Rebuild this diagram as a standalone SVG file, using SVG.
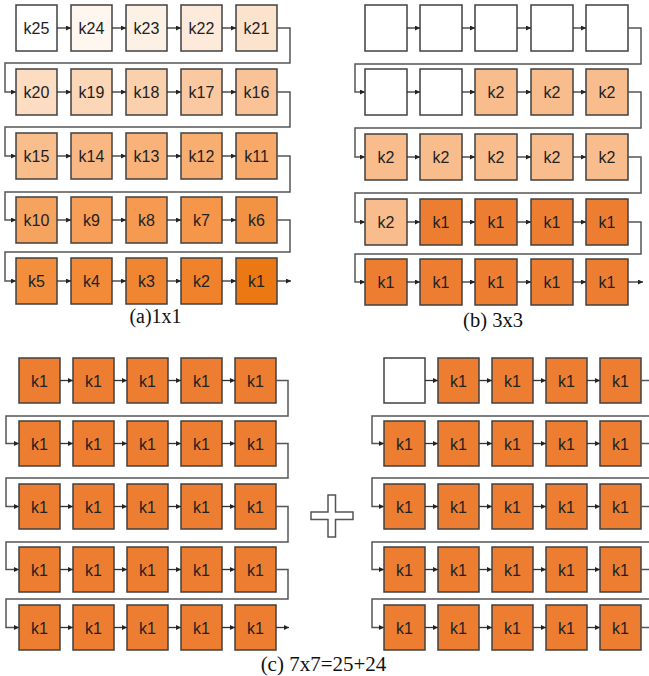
<svg xmlns="http://www.w3.org/2000/svg" width="649" height="676" viewBox="0 0 649 676">
<style>
.bx{stroke:#404040;stroke-width:1.5}
.t{font-size:16px;fill:#222;text-anchor:middle}
.cap{fill:#111;text-anchor:middle}
.c{fill:none;stroke:#333;stroke-width:1.3;marker-end:url(#ah)}
.w{fill:none;stroke:#555;stroke-width:1.5;marker-end:url(#ah)}
.s{fill:none;stroke:#555;stroke-width:1.5}
.k1{fill:#ED7D31}.k2{fill:#F9BD8D}.e{fill:#fff}
</style>
<defs>
<marker id="ah" markerUnits="userSpaceOnUse" markerWidth="5" markerHeight="5" refX="5" refY="2.5" orient="auto"><path d="M0,0L5,2.5L0,5z" fill="#222"/></marker>
</defs>
<rect width="649" height="676" fill="#fff"/>

<g font-family="Liberation Sans, Arial, sans-serif">
<!-- Panel A -->
<g id="panelA-nodes">
<g id="a-k25" transform="translate(16,5)"><rect class="bx" width="41" height="46" fill="#ffffff"/><text class="t" x="20.5" y="29">k25</text></g>
<g id="a-k24" transform="translate(71,5)"><rect class="bx" width="41" height="46" fill="#fef6ef"/><text class="t" x="20.5" y="29">k24</text></g>
<g id="a-k23" transform="translate(126,5)"><rect class="bx" width="41" height="46" fill="#fdf0e4"/><text class="t" x="20.5" y="29">k23</text></g>
<g id="a-k22" transform="translate(181,5)"><rect class="bx" width="41" height="46" fill="#fdeada"/><text class="t" x="20.5" y="29">k22</text></g>
<g id="a-k21" transform="translate(236,5)"><rect class="bx" width="41" height="46" fill="#fce3ce"/><text class="t" x="20.5" y="29">k21</text></g>
<g id="a-k20" transform="translate(16,69)"><rect class="bx" width="41" height="46" fill="#fcddc2"/><text class="t" x="20.5" y="29">k20</text></g>
<g id="a-k19" transform="translate(71,69)"><rect class="bx" width="41" height="46" fill="#fbd6b7"/><text class="t" x="20.5" y="29">k19</text></g>
<g id="a-k18" transform="translate(126,69)"><rect class="bx" width="41" height="46" fill="#fbd0ac"/><text class="t" x="20.5" y="29">k18</text></g>
<g id="a-k17" transform="translate(181,69)"><rect class="bx" width="41" height="46" fill="#fac9a1"/><text class="t" x="20.5" y="29">k17</text></g>
<g id="a-k16" transform="translate(236,69)"><rect class="bx" width="41" height="46" fill="#fac397"/><text class="t" x="20.5" y="29">k16</text></g>
<g id="a-k15" transform="translate(16,133)"><rect class="bx" width="41" height="46" fill="#fabe8d"/><text class="t" x="20.5" y="29">k15</text></g>
<g id="a-k14" transform="translate(71,133)"><rect class="bx" width="41" height="46" fill="#f9b883"/><text class="t" x="20.5" y="29">k14</text></g>
<g id="a-k13" transform="translate(126,133)"><rect class="bx" width="41" height="46" fill="#f9b37a"/><text class="t" x="20.5" y="29">k13</text></g>
<g id="a-k12" transform="translate(181,133)"><rect class="bx" width="41" height="46" fill="#f8ad71"/><text class="t" x="20.5" y="29">k12</text></g>
<g id="a-k11" transform="translate(236,133)"><rect class="bx" width="41" height="46" fill="#f8a868"/><text class="t" x="20.5" y="29">k11</text></g>
<g id="a-k10" transform="translate(16,197)"><rect class="bx" width="41" height="46" fill="#f7a360"/><text class="t" x="20.5" y="29">k10</text></g>
<g id="a-k9" transform="translate(71,197)"><rect class="bx" width="41" height="46" fill="#f79e58"/><text class="t" x="20.5" y="29">k9</text></g>
<g id="a-k8" transform="translate(126,197)"><rect class="bx" width="41" height="46" fill="#f69a51"/><text class="t" x="20.5" y="29">k8</text></g>
<g id="a-k7" transform="translate(181,197)"><rect class="bx" width="41" height="46" fill="#f5964a"/><text class="t" x="20.5" y="29">k7</text></g>
<g id="a-k6" transform="translate(236,197)"><rect class="bx" width="41" height="46" fill="#f49244"/><text class="t" x="20.5" y="29">k6</text></g>
<g id="a-k5" transform="translate(16,258)"><rect class="bx" width="41" height="46" fill="#f38e3d"/><text class="t" x="20.5" y="29">k5</text></g>
<g id="a-k4" transform="translate(71,258)"><rect class="bx" width="41" height="46" fill="#f28a37"/><text class="t" x="20.5" y="29">k4</text></g>
<g id="a-k3" transform="translate(126,258)"><rect class="bx" width="41" height="46" fill="#f18632"/><text class="t" x="20.5" y="29">k3</text></g>
<g id="a-k2" transform="translate(181,258)"><rect class="bx" width="41" height="46" fill="#f0822c"/><text class="t" x="20.5" y="29">k2</text></g>
<g id="a-k1" transform="translate(236,258)"><rect class="bx" width="41" height="46" fill="#ec7814"/><text class="t" x="20.5" y="29">k1</text></g>
</g>

<!-- Panel B -->
<g id="panelB-nodes">
<g id="b-r1c1" transform="translate(365,5)"><rect class="bx e" width="42" height="46"/></g>
<g id="b-r1c2" transform="translate(420,5)"><rect class="bx e" width="42" height="46"/></g>
<g id="b-r1c3" transform="translate(475,5)"><rect class="bx e" width="42" height="46"/></g>
<g id="b-r1c4" transform="translate(531,5)"><rect class="bx e" width="42" height="46"/></g>
<g id="b-r1c5" transform="translate(586,5)"><rect class="bx e" width="42" height="46"/></g>
<g id="b-r2c1" transform="translate(365,69)"><rect class="bx e" width="42" height="46"/></g>
<g id="b-r2c2" transform="translate(420,69)"><rect class="bx e" width="42" height="46"/></g>
<g id="b-r2c3" transform="translate(475,69)"><rect class="bx k2" width="42" height="46"/><text class="t" x="21" y="29">k2</text></g>
<g id="b-r2c4" transform="translate(531,69)"><rect class="bx k2" width="42" height="46"/><text class="t" x="21" y="29">k2</text></g>
<g id="b-r2c5" transform="translate(586,69)"><rect class="bx k2" width="42" height="46"/><text class="t" x="21" y="29">k2</text></g>
<g id="b-r3c1" transform="translate(365,134)"><rect class="bx k2" width="42" height="46"/><text class="t" x="21" y="29">k2</text></g>
<g id="b-r3c2" transform="translate(420,134)"><rect class="bx k2" width="42" height="46"/><text class="t" x="21" y="29">k2</text></g>
<g id="b-r3c3" transform="translate(475,134)"><rect class="bx k2" width="42" height="46"/><text class="t" x="21" y="29">k2</text></g>
<g id="b-r3c4" transform="translate(531,134)"><rect class="bx k2" width="42" height="46"/><text class="t" x="21" y="29">k2</text></g>
<g id="b-r3c5" transform="translate(586,134)"><rect class="bx k2" width="42" height="46"/><text class="t" x="21" y="29">k2</text></g>
<g id="b-r4c1" transform="translate(365,199)"><rect class="bx k2" width="42" height="46"/><text class="t" x="21" y="29">k2</text></g>
<g id="b-r4c2" transform="translate(420,199)"><rect class="bx k1" width="42" height="46"/><text class="t" x="21" y="29">k1</text></g>
<g id="b-r4c3" transform="translate(475,199)"><rect class="bx k1" width="42" height="46"/><text class="t" x="21" y="29">k1</text></g>
<g id="b-r4c4" transform="translate(531,199)"><rect class="bx k1" width="42" height="46"/><text class="t" x="21" y="29">k1</text></g>
<g id="b-r4c5" transform="translate(586,199)"><rect class="bx k1" width="42" height="46"/><text class="t" x="21" y="29">k1</text></g>
<g id="b-r5c1" transform="translate(365,259)"><rect class="bx k1" width="42" height="46"/><text class="t" x="21" y="29">k1</text></g>
<g id="b-r5c2" transform="translate(420,259)"><rect class="bx k1" width="42" height="46"/><text class="t" x="21" y="29">k1</text></g>
<g id="b-r5c3" transform="translate(475,259)"><rect class="bx k1" width="42" height="46"/><text class="t" x="21" y="29">k1</text></g>
<g id="b-r5c4" transform="translate(531,259)"><rect class="bx k1" width="42" height="46"/><text class="t" x="21" y="29">k1</text></g>
<g id="b-r5c5" transform="translate(586,259)"><rect class="bx k1" width="42" height="46"/><text class="t" x="21" y="29">k1</text></g>
</g>

<!-- Panel C left -->
<g id="panelC1-nodes">
<g id="c1-r1c1" transform="translate(19,358)"><rect class="bx k1" width="41" height="45"/><text class="t" x="20.5" y="28.5">k1</text></g>
<g id="c1-r1c2" transform="translate(73,358)"><rect class="bx k1" width="41" height="45"/><text class="t" x="20.5" y="28.5">k1</text></g>
<g id="c1-r1c3" transform="translate(127,358)"><rect class="bx k1" width="41" height="45"/><text class="t" x="20.5" y="28.5">k1</text></g>
<g id="c1-r1c4" transform="translate(181,358)"><rect class="bx k1" width="41" height="45"/><text class="t" x="20.5" y="28.5">k1</text></g>
<g id="c1-r1c5" transform="translate(235,358)"><rect class="bx k1" width="41" height="45"/><text class="t" x="20.5" y="28.5">k1</text></g>
<g id="c1-r2c1" transform="translate(19,421)"><rect class="bx k1" width="41" height="45"/><text class="t" x="20.5" y="28.5">k1</text></g>
<g id="c1-r2c2" transform="translate(73,421)"><rect class="bx k1" width="41" height="45"/><text class="t" x="20.5" y="28.5">k1</text></g>
<g id="c1-r2c3" transform="translate(127,421)"><rect class="bx k1" width="41" height="45"/><text class="t" x="20.5" y="28.5">k1</text></g>
<g id="c1-r2c4" transform="translate(181,421)"><rect class="bx k1" width="41" height="45"/><text class="t" x="20.5" y="28.5">k1</text></g>
<g id="c1-r2c5" transform="translate(235,421)"><rect class="bx k1" width="41" height="45"/><text class="t" x="20.5" y="28.5">k1</text></g>
<g id="c1-r3c1" transform="translate(19,484)"><rect class="bx k1" width="41" height="45"/><text class="t" x="20.5" y="28.5">k1</text></g>
<g id="c1-r3c2" transform="translate(73,484)"><rect class="bx k1" width="41" height="45"/><text class="t" x="20.5" y="28.5">k1</text></g>
<g id="c1-r3c3" transform="translate(127,484)"><rect class="bx k1" width="41" height="45"/><text class="t" x="20.5" y="28.5">k1</text></g>
<g id="c1-r3c4" transform="translate(181,484)"><rect class="bx k1" width="41" height="45"/><text class="t" x="20.5" y="28.5">k1</text></g>
<g id="c1-r3c5" transform="translate(235,484)"><rect class="bx k1" width="41" height="45"/><text class="t" x="20.5" y="28.5">k1</text></g>
<g id="c1-r4c1" transform="translate(19,547)"><rect class="bx k1" width="41" height="45"/><text class="t" x="20.5" y="28.5">k1</text></g>
<g id="c1-r4c2" transform="translate(73,547)"><rect class="bx k1" width="41" height="45"/><text class="t" x="20.5" y="28.5">k1</text></g>
<g id="c1-r4c3" transform="translate(127,547)"><rect class="bx k1" width="41" height="45"/><text class="t" x="20.5" y="28.5">k1</text></g>
<g id="c1-r4c4" transform="translate(181,547)"><rect class="bx k1" width="41" height="45"/><text class="t" x="20.5" y="28.5">k1</text></g>
<g id="c1-r4c5" transform="translate(235,547)"><rect class="bx k1" width="41" height="45"/><text class="t" x="20.5" y="28.5">k1</text></g>
<g id="c1-r5c1" transform="translate(19,605)"><rect class="bx k1" width="41" height="45"/><text class="t" x="20.5" y="28.5">k1</text></g>
<g id="c1-r5c2" transform="translate(73,605)"><rect class="bx k1" width="41" height="45"/><text class="t" x="20.5" y="28.5">k1</text></g>
<g id="c1-r5c3" transform="translate(127,605)"><rect class="bx k1" width="41" height="45"/><text class="t" x="20.5" y="28.5">k1</text></g>
<g id="c1-r5c4" transform="translate(181,605)"><rect class="bx k1" width="41" height="45"/><text class="t" x="20.5" y="28.5">k1</text></g>
<g id="c1-r5c5" transform="translate(235,605)"><rect class="bx k1" width="41" height="45"/><text class="t" x="20.5" y="28.5">k1</text></g>
</g>

<!-- Panel C right -->
<g id="panelC2-nodes">
<g id="c2-r1c1" transform="translate(384,358)"><rect class="bx e" width="41" height="45"/></g>
<g id="c2-r1c2" transform="translate(438,358)"><rect class="bx k1" width="41" height="45"/><text class="t" x="20.5" y="28.5">k1</text></g>
<g id="c2-r1c3" transform="translate(492,358)"><rect class="bx k1" width="41" height="45"/><text class="t" x="20.5" y="28.5">k1</text></g>
<g id="c2-r1c4" transform="translate(546,358)"><rect class="bx k1" width="41" height="45"/><text class="t" x="20.5" y="28.5">k1</text></g>
<g id="c2-r1c5" transform="translate(600,358)"><rect class="bx k1" width="41" height="45"/><text class="t" x="20.5" y="28.5">k1</text></g>
<g id="c2-r2c1" transform="translate(384,421)"><rect class="bx k1" width="41" height="45"/><text class="t" x="20.5" y="28.5">k1</text></g>
<g id="c2-r2c2" transform="translate(438,421)"><rect class="bx k1" width="41" height="45"/><text class="t" x="20.5" y="28.5">k1</text></g>
<g id="c2-r2c3" transform="translate(492,421)"><rect class="bx k1" width="41" height="45"/><text class="t" x="20.5" y="28.5">k1</text></g>
<g id="c2-r2c4" transform="translate(546,421)"><rect class="bx k1" width="41" height="45"/><text class="t" x="20.5" y="28.5">k1</text></g>
<g id="c2-r2c5" transform="translate(600,421)"><rect class="bx k1" width="41" height="45"/><text class="t" x="20.5" y="28.5">k1</text></g>
<g id="c2-r3c1" transform="translate(384,484)"><rect class="bx k1" width="41" height="45"/><text class="t" x="20.5" y="28.5">k1</text></g>
<g id="c2-r3c2" transform="translate(438,484)"><rect class="bx k1" width="41" height="45"/><text class="t" x="20.5" y="28.5">k1</text></g>
<g id="c2-r3c3" transform="translate(492,484)"><rect class="bx k1" width="41" height="45"/><text class="t" x="20.5" y="28.5">k1</text></g>
<g id="c2-r3c4" transform="translate(546,484)"><rect class="bx k1" width="41" height="45"/><text class="t" x="20.5" y="28.5">k1</text></g>
<g id="c2-r3c5" transform="translate(600,484)"><rect class="bx k1" width="41" height="45"/><text class="t" x="20.5" y="28.5">k1</text></g>
<g id="c2-r4c1" transform="translate(384,547)"><rect class="bx k1" width="41" height="45"/><text class="t" x="20.5" y="28.5">k1</text></g>
<g id="c2-r4c2" transform="translate(438,547)"><rect class="bx k1" width="41" height="45"/><text class="t" x="20.5" y="28.5">k1</text></g>
<g id="c2-r4c3" transform="translate(492,547)"><rect class="bx k1" width="41" height="45"/><text class="t" x="20.5" y="28.5">k1</text></g>
<g id="c2-r4c4" transform="translate(546,547)"><rect class="bx k1" width="41" height="45"/><text class="t" x="20.5" y="28.5">k1</text></g>
<g id="c2-r4c5" transform="translate(600,547)"><rect class="bx k1" width="41" height="45"/><text class="t" x="20.5" y="28.5">k1</text></g>
<g id="c2-r5c1" transform="translate(384,605)"><rect class="bx k1" width="41" height="45"/><text class="t" x="20.5" y="28.5">k1</text></g>
<g id="c2-r5c2" transform="translate(438,605)"><rect class="bx k1" width="41" height="45"/><text class="t" x="20.5" y="28.5">k1</text></g>
<g id="c2-r5c3" transform="translate(492,605)"><rect class="bx k1" width="41" height="45"/><text class="t" x="20.5" y="28.5">k1</text></g>
<g id="c2-r5c4" transform="translate(546,605)"><rect class="bx k1" width="41" height="45"/><text class="t" x="20.5" y="28.5">k1</text></g>
<g id="c2-r5c5" transform="translate(600,605)"><rect class="bx k1" width="41" height="45"/><text class="t" x="20.5" y="28.5">k1</text></g>
</g>
</g>

<g id="connectors">
<path class="c" d="M57 28H71"/><path class="c" d="M112 28H126"/><path class="c" d="M167 28H181"/><path class="c" d="M222 28H236"/>
<path class="c" d="M57 92H71"/><path class="c" d="M112 92H126"/><path class="c" d="M167 92H181"/><path class="c" d="M222 92H236"/>
<path class="c" d="M57 156H71"/><path class="c" d="M112 156H126"/><path class="c" d="M167 156H181"/><path class="c" d="M222 156H236"/>
<path class="c" d="M57 220H71"/><path class="c" d="M112 220H126"/><path class="c" d="M167 220H181"/><path class="c" d="M222 220H236"/>
<path class="c" d="M57 281H71"/><path class="c" d="M112 281H126"/><path class="c" d="M167 281H181"/><path class="c" d="M222 281H236"/>
<path class="w" d="M277 28H290V63H5V92H16"/>
<path class="w" d="M277 92H290V127H5V156H16"/>
<path class="w" d="M277 156H290V192H5V220H16"/>
<path class="w" d="M277 220H290V252H5V281H16"/>
<path class="c" d="M277 281H291"/>
<path class="c" d="M407 28H420"/><path class="c" d="M462 28H475"/><path class="c" d="M517 28H531"/><path class="c" d="M573 28H586"/>
<path class="c" d="M407 92H420"/><path class="c" d="M462 92H475"/><path class="c" d="M517 92H531"/><path class="c" d="M573 92H586"/>
<path class="c" d="M407 157H420"/><path class="c" d="M462 157H475"/><path class="c" d="M517 157H531"/><path class="c" d="M573 157H586"/>
<path class="c" d="M407 222H420"/><path class="c" d="M462 222H475"/><path class="c" d="M517 222H531"/><path class="c" d="M573 222H586"/>
<path class="c" d="M407 282H420"/><path class="c" d="M462 282H475"/><path class="c" d="M517 282H531"/><path class="c" d="M573 282H586"/>
<path class="w" d="M628 28H641V64H355V92H365"/>
<path class="w" d="M628 92H641V128H355V157H365"/>
<path class="w" d="M628 157H641V193H355V222H365"/>
<path class="w" d="M628 222H641V254H355V282H365"/>
<path class="c" d="M628 282H643"/>
<path class="c" d="M60 380.5H73"/><path class="c" d="M114 380.5H127"/><path class="c" d="M168 380.5H181"/><path class="c" d="M222 380.5H235"/>
<path class="c" d="M60 443.5H73"/><path class="c" d="M114 443.5H127"/><path class="c" d="M168 443.5H181"/><path class="c" d="M222 443.5H235"/>
<path class="c" d="M60 506.5H73"/><path class="c" d="M114 506.5H127"/><path class="c" d="M168 506.5H181"/><path class="c" d="M222 506.5H235"/>
<path class="c" d="M60 569.5H73"/><path class="c" d="M114 569.5H127"/><path class="c" d="M168 569.5H181"/><path class="c" d="M222 569.5H235"/>
<path class="c" d="M60 627.5H73"/><path class="c" d="M114 627.5H127"/><path class="c" d="M168 627.5H181"/><path class="c" d="M222 627.5H235"/>
<path class="w" d="M276 380.5H288V416H6V443.5H19"/>
<path class="w" d="M276 443.5H288V478H6V506.5H19"/>
<path class="w" d="M276 506.5H288V542H6V569.5H19"/>
<path class="w" d="M276 569.5H288V599H6V627.5H19"/>
<path class="c" d="M276 627.5H289"/>
<path class="c" d="M425 380.5H438"/><path class="c" d="M479 380.5H492"/><path class="c" d="M533 380.5H546"/><path class="c" d="M587 380.5H600"/>
<path class="c" d="M425 443.5H438"/><path class="c" d="M479 443.5H492"/><path class="c" d="M533 443.5H546"/><path class="c" d="M587 443.5H600"/>
<path class="c" d="M425 506.5H438"/><path class="c" d="M479 506.5H492"/><path class="c" d="M533 506.5H546"/><path class="c" d="M587 506.5H600"/>
<path class="c" d="M425 569.5H438"/><path class="c" d="M479 569.5H492"/><path class="c" d="M533 569.5H546"/><path class="c" d="M587 569.5H600"/>
<path class="c" d="M425 627.5H438"/><path class="c" d="M479 627.5H492"/><path class="c" d="M533 627.5H546"/><path class="c" d="M587 627.5H600"/>
<path class="s" d="M641 380.5H652"/><path class="s" d="M641 443.5H652"/><path class="s" d="M641 506.5H652"/><path class="s" d="M641 569.5H652"/><path class="s" d="M641 627.5H652"/>
<path class="w" d="M652 416H372V443.5H384"/>
<path class="w" d="M652 478H372V506.5H384"/>
<path class="w" d="M652 542H372V569.5H384"/>
<path class="w" d="M652 599H372V627.5H384"/>
</g>

<g id="plus">
<polygon points="328,495 335.5,495 335.5,512 353,512 353,519.5 335.5,519.5 335.5,537 328,537 328,519.5 311,519.5 311,512 328,512" fill="#fff" stroke="#555" stroke-width="1.5"/>
</g>

<g id="captions" font-family="Liberation Serif, DejaVu Serif, serif">
<text class="cap" x="155.5" y="323" font-size="20">(a)1x1</text>
<text class="cap" x="493" y="327" font-size="20.5">(b) 3x3</text>
<text class="cap" x="323.5" y="671" font-size="21">(c) 7x7=25+24</text>
</g>
</svg>
